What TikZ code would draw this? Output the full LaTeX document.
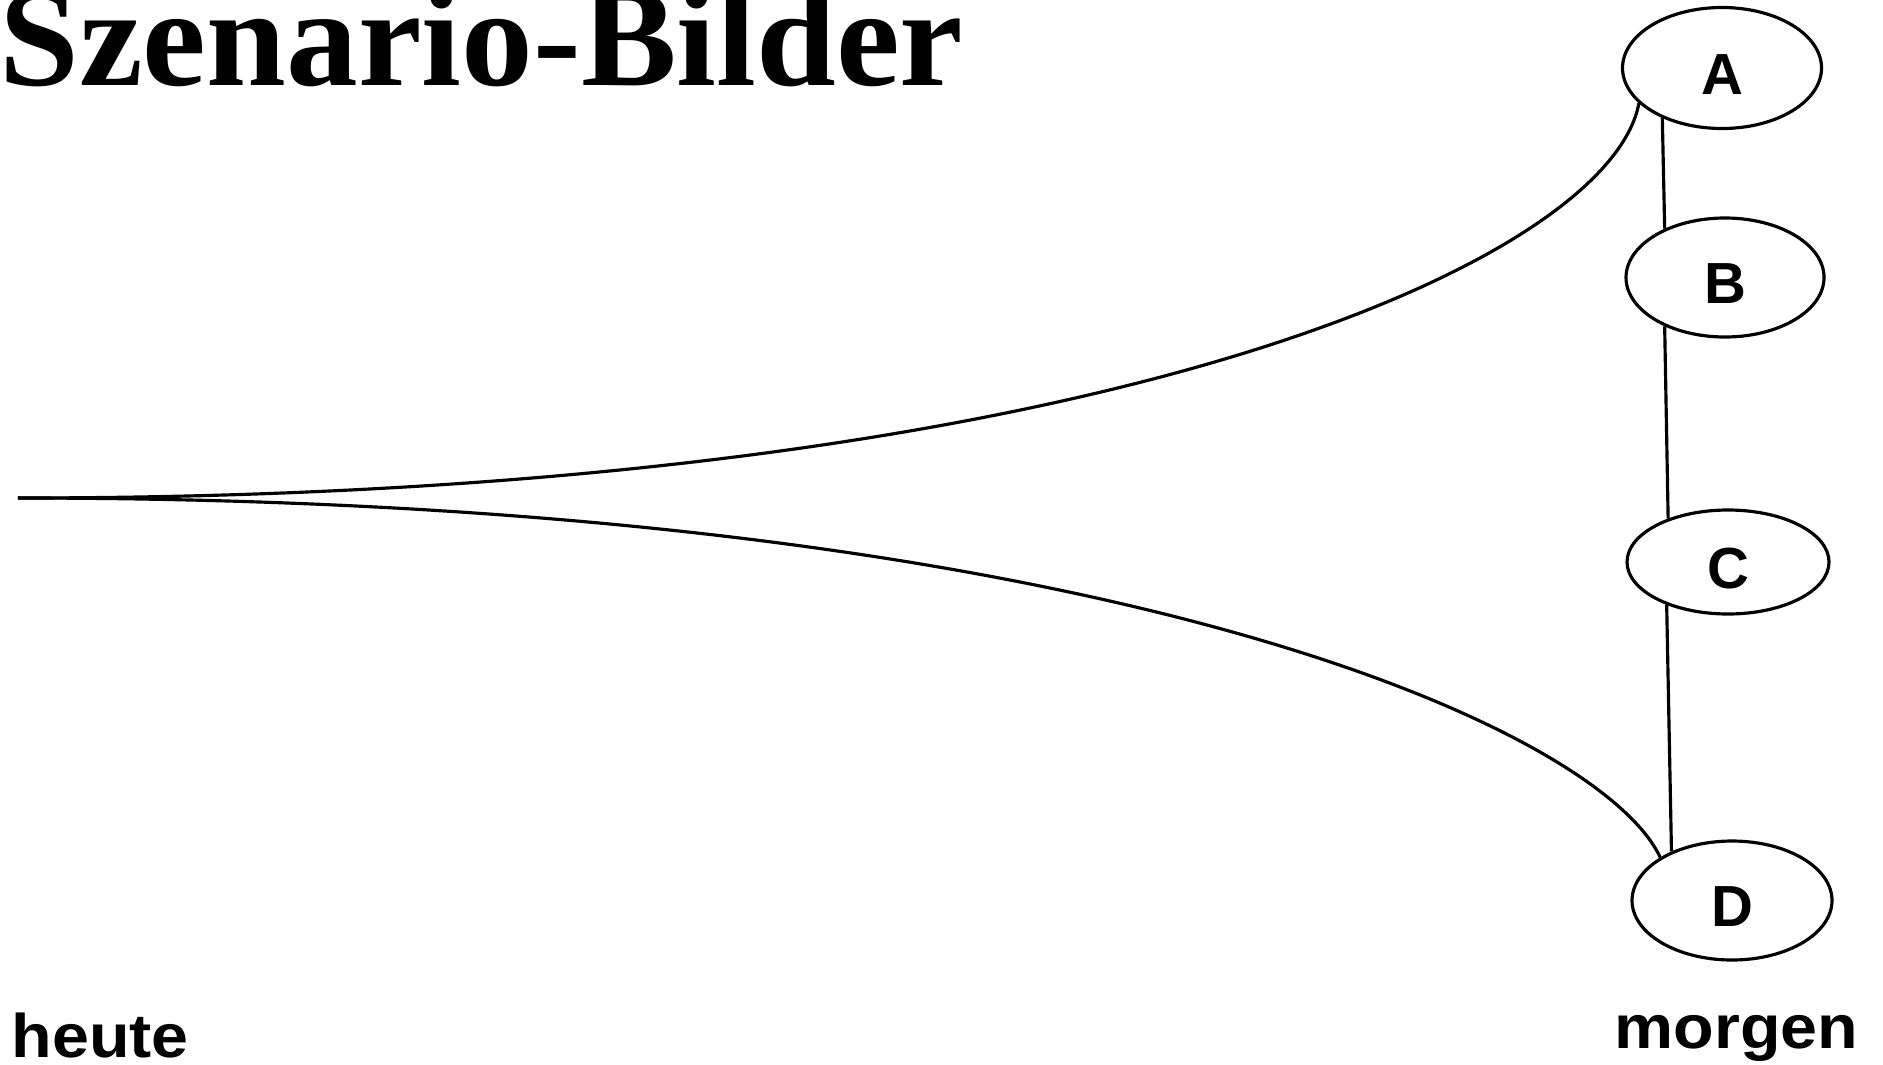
\documentclass[tikz,border=0pt]{standalone}
\usepackage{fontspec}
\usepackage{tikz}
\usetikzlibrary{shapes.geometric}
\newfontfamily\titlefont{Liberation Serif}
\newfontfamily\labelfont{Liberation Sans}

\begin{document}
\begin{tikzpicture}[line width=0.9pt,
                    scenario/.style={ellipse, draw, fill=white, inner sep=0pt,
                                     text height=0.52cm, text depth=0cm,
                                     font=\labelfont\bfseries\fontsize{16.5}{18}\selectfont},
                    timelabel/.style={inner sep=0pt,
                                      font=\labelfont\bfseries\fontsize{17.5}{20}\selectfont}]
  \useasboundingbox (0,0) rectangle (18.83,10.64);
  \node[anchor=base west, inner sep=0pt,
        font=\titlefont\bfseries\fontsize{40}{46}\selectfont]
    (title) at (-0.02,9.79) {\scalebox{1.02}[1]{Szenario-Bilder}};
  \node[scenario, minimum width=1.99cm, minimum height=1.21cm] (A) at (17.22,9.96) {A};
  \node[scenario, minimum width=1.98cm, minimum height=1.19cm] (B) at (17.25,7.865) {B};
  \node[scenario, minimum width=2.02cm, minimum height=1.04cm] (C) at (17.28,5.02) {C};
  \node[scenario, minimum width=2.00cm, minimum height=1.19cm] (D) at (17.32,1.635) {D};
  \coordinate (today) at (0.18,5.66);
  \draw (today) .. controls (11.00,5.66) and (16.10,8.04) .. (A.203);
  \draw (today) .. controls (11.00,5.66) and (16.00,3.36) .. (D.149);
  \draw (A.220) -- (B.141);
  \draw (B.219) -- (C.144);
  \draw (C.215) -- (D.141);
  \node[timelabel, anchor=base west] (heute) at (0.10,0.07) {\scalebox{1.08}[1]{heute}};
  \node[timelabel, anchor=base east] (morgen) at (18.60,0.16) {\scalebox{1.08}[1]{morgen}};
\end{tikzpicture}
\end{document}
